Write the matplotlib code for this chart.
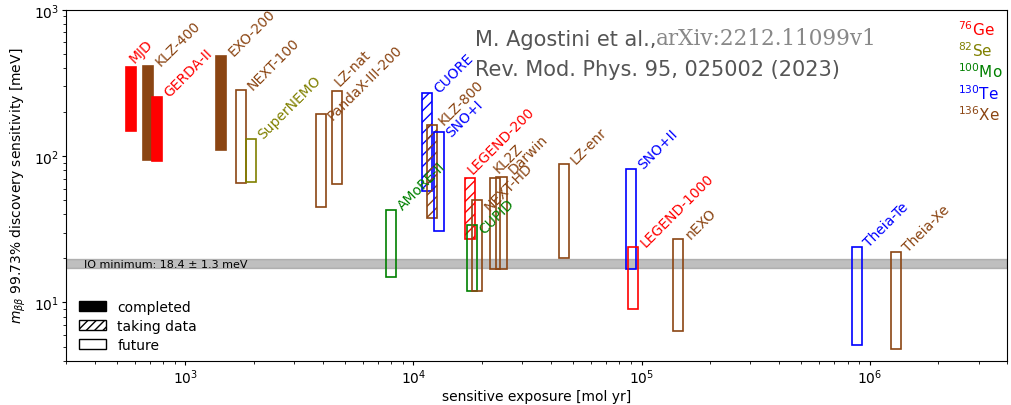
import matplotlib
matplotlib.use("Agg")
import matplotlib.pyplot as plt
from matplotlib.patches import Patch

# experiments: name, isotope, exposure [mol yr], sensitivity range [meV], status
names = ["MJD", "KLZ-400", "GERDA-II", "EXO-200", "NEXT-100", "SuperNEMO",
         "PandaX-III-200", "LZ-nat", "CUORE", "KLZ-800", "SNO+I", "AMoRE-II",
         "LEGEND-200", "CUPID", "NEXT-HD", "KL2Z", "Darwin", "LZ-enr", "SNO+II",
         "LEGEND-1000", "nEXO", "Theia-Te", "Theia-Xe"]
isotopes = ["Ge", "Xe", "Ge", "Xe", "Xe", "Se",
            "Xe", "Xe", "Te", "Xe", "Te", "Mo",
            "Ge", "Mo", "Xe", "Xe", "Xe", "Xe", "Te",
            "Ge", "Xe", "Te", "Xe"]
exposure = [580, 689, 755, 1440, 1750, 1940,
            3935, 4620, 11460, 12050, 12970, 7980,
            17740, 18110, 19040, 22850, 24320, 45500, 89950,
            92000, 145000, 877000, 1.30e6]
sens_low = [149, 94, 93, 110, 66, 67,
            45, 64, 58, 38, 31, 15,
            27, 12, 12, 17, 17, 20, 17,
            9.0, 6.4, 5.1, 4.8]
sens_high = [404, 410, 254, 480, 282, 131,
             195, 278, 271, 164, 145, 43,
             71, 34, 50.5, 71.4, 72.4, 88, 81,
             24, 27, 24, 22]
status = ["completed", "completed", "completed", "completed", "future", "future",
          "future", "future", "taking", "taking", "future", "future",
          "taking", "future", "future", "future", "future", "future", "future",
          "future", "future", "future", "future"]

iso_names = ["Ge", "Se", "Mo", "Te", "Xe"]
iso_mass = [76, 82, 100, 130, 136]
iso_colors = {"Ge": "red", "Se": "olive", "Mo": "green", "Te": "blue", "Xe": "saddlebrown"}

io_min = 18.4
io_err = 1.3

# manual label nudges (points)
nudge = {"MJD": (-6.5, 3), "LZ-nat": (-7, 3.5), "PandaX-III-200": (0, -4.5),
         "SNO+I": (0, -3), "LEGEND-200": (-7, 3), "CUPID": (0, -6.5),
         "NEXT-HD": (0, -8.5), "KL2Z": (-6.5, 3), "Darwin": (0, 1.5)}

fig = plt.figure(figsize=(10.11, 4.06), dpi=100)
ax = fig.add_axes([0.0653, 0.1091, 0.9308, 0.8645])
ax.set_xscale("log")
ax.set_yscale("log")
ax.set_xlim(300, 4e6)
ax.set_ylim(4, 1000)
ax.tick_params(which="major", length=3, pad=2)
ax.tick_params(which="minor", length=2)

ax.axhspan(io_min - io_err, io_min + io_err, color="gray", alpha=0.5, zorder=1)
ax.text(360, io_min, f"IO minimum: {io_min} ± {io_err} meV", fontsize=8,
        va="center", ha="left", zorder=3)

half = 1.052
for n, iso, x, lo, hi, st in zip(names, isotopes, exposure, sens_low, sens_high, status):
    c = iso_colors[iso]
    left = x / half
    if st == "completed":
        ax.bar(left, hi - lo, width=x * half - left, bottom=lo, align="edge",
               color=c, edgecolor=c, linewidth=1.2, zorder=2)
    elif st == "taking":
        ax.bar(left, hi - lo, width=x * half - left, bottom=lo, align="edge",
               facecolor="none", edgecolor=c, hatch="///", linewidth=1.2, zorder=2)
    else:
        ax.bar(left, hi - lo, width=x * half - left, bottom=lo, align="edge",
               facecolor="none", edgecolor=c, linewidth=1.2, zorder=2)
    dx, dy = nudge.get(n, (0, 0))
    ax.annotate(n, xy=(x * half, hi), xytext=(6.5 + dx, -1.5 + dy), textcoords="offset points",
                rotation=45, rotation_mode="anchor", ha="left", va="bottom",
                color=c, fontsize=10, zorder=4)

# isotope colour key
for i, (iso, m) in enumerate(zip(iso_names, iso_mass)):
    ax.text(0.948, 0.945 - i * 0.06, r"$^{%d}$%s" % (m, iso), transform=ax.transAxes,
            color=iso_colors[iso], fontsize=11, ha="left", va="center")

# reference
t1 = ax.text(0.4346, 0.9165, "M. Agostini et al.,", transform=ax.transAxes,
             fontsize=15, color="#555555", ha="left", va="center")
ax.annotate("arXiv:2212.11099v1", xy=(1, 0), xycoords=t1, va="bottom", ha="left",
            fontsize=15.5, color="#888888", family="DejaVu Serif")
ax.text(0.4346, 0.831, "Rev. Mod. Phys. 95, 025002 (2023)", transform=ax.transAxes,
        fontsize=15, color="#555555", ha="left", va="center")

handles = [Patch(facecolor="black", edgecolor="black", label="completed"),
           Patch(facecolor="white", edgecolor="black", hatch="////", label="taking data"),
           Patch(facecolor="white", edgecolor="black", label="future")]
ax.legend(handles=handles, loc="lower left", frameon=False, fontsize=10,
          labelspacing=0.35, bbox_to_anchor=(0.0, -0.01))

ax.set_xlabel("sensitive exposure [mol yr]", labelpad=2)
ax.set_ylabel(r"$m_{\beta\beta}$ 99.73% discovery sensitivity [meV]")

fig.savefig("out.png", dpi=100)
